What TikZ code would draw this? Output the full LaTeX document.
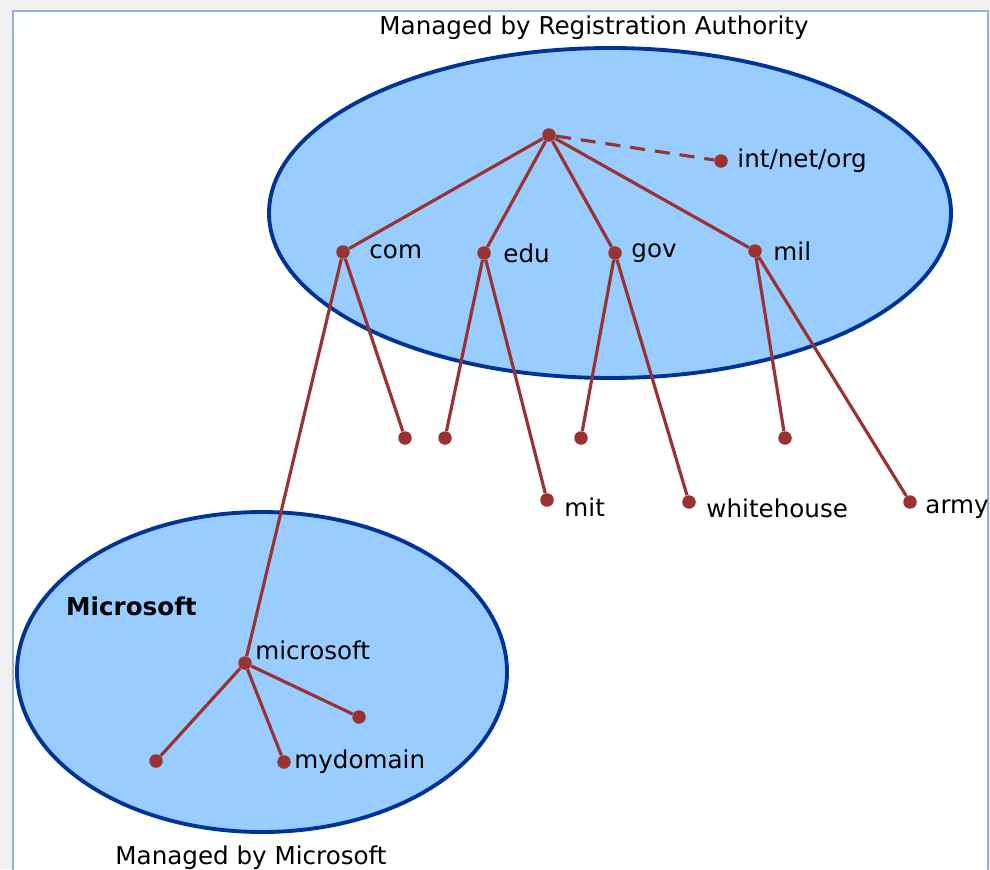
\documentclass[tikz,border=0pt]{standalone}
\usepackage{fontspec}
\setmainfont{DejaVu Sans}
\definecolor{zonefill}{RGB}{153,204,255}
\definecolor{zoneline}{RGB}{0,51,153}
\definecolor{branch}{RGB}{153,51,51}
\definecolor{panelline}{RGB}{150,178,214}
\definecolor{backdrop}{RGB}{240,240,240}

\begin{document}
\begin{tikzpicture}[x=0.02cm,y=-0.02cm,
   every node/.style={font=\fontsize{14}{16}\selectfont},
   zone/.style={draw=zoneline,fill=zonefill,line width=2.2pt},
   dot/.style={circle,fill=branch,inner sep=0pt,minimum size=0.27cm},
   link/.style={draw=branch,line width=1.8pt},
   every label/.style={label distance=0.22cm,inner sep=0pt}]
\useasboundingbox (0,0) rectangle (990,869);
\fill[backdrop] (0,0) rectangle (990,869);
\filldraw[fill=white,draw=panelline,line width=0.8pt] (13,11) rectangle (988,875);

% zones
\draw[zone] (610,213) ellipse [x radius=341,y radius=165];
\draw[zone] (262,672) ellipse [x radius=245,y radius=160];
\node (ratitle) at (594,28) {Managed by Registration Authority};
\node (mstitle) at (251,858) {Managed by Microsoft};
\node[anchor=west,font=\fontsize{14}{16}\bfseries] (mszone) at (60,606) {Microsoft};

% top level
\node[dot] (root) at (549,135) {};
\node[dot,label={[label distance=0.18cm]right:int/net/org}] (intnet) at (721,161) {};
\node[dot,label={[label distance=0.38cm]right:com}] (com) at (343,252) {};
\node[dot,label={[label distance=0.24cm]right:edu}] (edu) at (484,253) {};
\node[dot,label={[label distance=0.18cm]right:gov}] (gov) at (615,253) {};
\node[dot,label={right:mil}] (mil) at (755,251) {};

% second level
\node[dot] (comleaf) at (405,438) {};
\node[dot] (eduleaf) at (445,438) {};
\node[dot] (govleaf) at (581,438) {};
\node[dot] (milleaf) at (785,438) {};
\node[dot,label={[yshift=-0.14cm,label distance=0.2cm]right:mit}] (mit) at (547,500) {};
\node[dot,label={[yshift=-0.12cm,label distance=0.2cm]right:whitehouse}] (whitehouse) at (689,502) {};
\node[dot,label={[yshift=-0.14cm,label distance=0.16cm]right:army}] (army) at (910,502) {};

% microsoft
\node[dot,label={[anchor=south west,label distance=0pt,xshift=0.1cm,yshift=-0.05cm]north east:microsoft}] (microsoft) at (245,663) {};
\node[dot] (msleaf) at (359,717) {};
\node[dot] (mswest) at (156,761) {};
\node[dot,label={[label distance=0.06cm]right:mydomain}] (mydomain) at (284,762) {};

\path[link,dashed,dash pattern=on 0.3cm off 0.2cm] (root) -- (intnet);
\foreach \kid in {com,edu,gov,mil} \path[link] (root) -- (\kid);
\path[link] (com) -- (comleaf) (com) -- (microsoft);
\path[link] (edu) -- (eduleaf) (edu) -- (mit);
\path[link] (gov) -- (govleaf) (gov) -- (whitehouse);
\path[link] (mil) -- (milleaf) (mil) -- (army);
\foreach \kid in {msleaf,mswest,mydomain} \path[link] (microsoft) -- (\kid);
\end{tikzpicture}
\end{document}
